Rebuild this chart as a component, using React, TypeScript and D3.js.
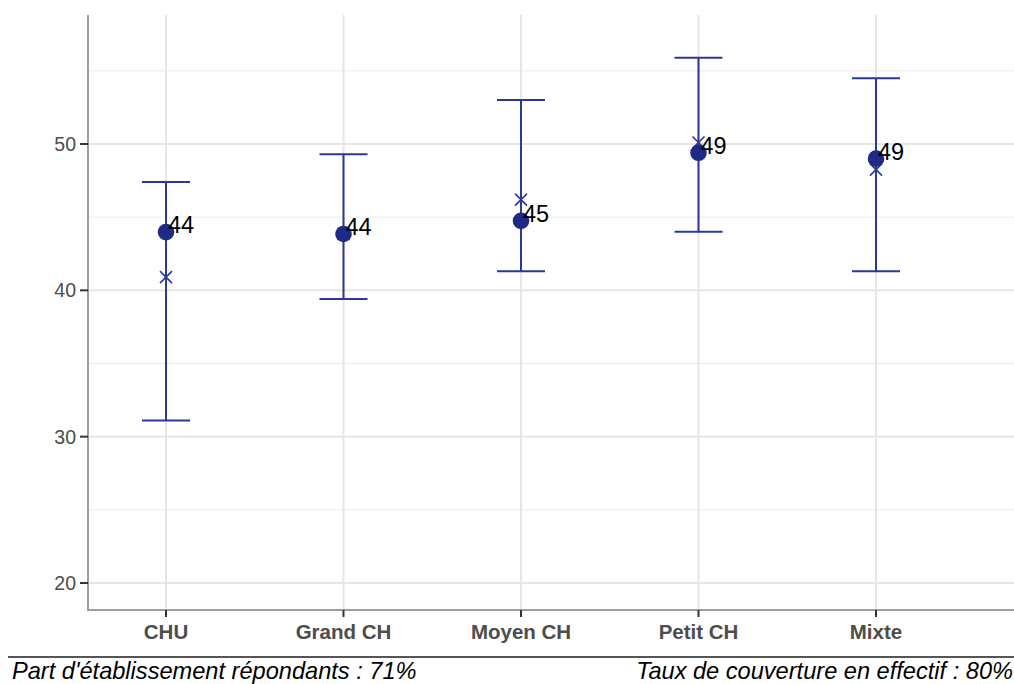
import React from "react";
import * as d3 from "d3";

const categories = ["CHU", "Grand CH", "Moyen CH", "Petit CH", "Mixte"];
const meanValues = [43.98, 43.85, 44.75, 49.4, 49.0];
const medianValues = [40.9, 43.85, 46.2, 50.1, 48.25];
const lowerValues = [31.1, 39.4, 41.3, 44.0, 41.3];
const upperValues = [47.4, 49.3, 53.0, 55.9, 54.5];
const labels = ["44", "44", "45", "49", "49"];
const majorTicks = [20, 30, 40, 50];
const minorTicks = [25, 35, 45, 55];
const footerLeft = "Part d'établissement répondants : 71%";
const footerRight = "Taux de couverture en effectif : 80%";

const W = 1014;
const H = 684;
const plotLeft = 88;
const plotTop = 15;
const plotBottom = 610;
const plotRight = 1014;

export default function App() {
  const y = d3.scaleLinear().domain([20, 50]).range([583, 144]);
  const x = d3
    .scalePoint<string>()
    .domain(categories)
    .range([166, 876]);
  const col = "#2a389a";
  const dot = "#1e2a85";
  const capHalf = 24;
  const xs = 6;
  const font = "Liberation Sans, Arial, Helvetica, sans-serif";

  return (
    <svg
      width={W}
      height={H}
      style={{ position: "absolute", left: 0, top: 0, background: "#fff" }}
      fontFamily={font}
    >
      {/* minor grid */}
      {minorTicks.map((t) => (
        <line key={"mi" + t} x1={plotLeft} x2={plotRight} y1={y(t)} y2={y(t)} stroke="#ebebeb" strokeWidth={1} />
      ))}
      {majorTicks.map((t) => (
        <line key={"ma" + t} x1={plotLeft} x2={plotRight} y1={y(t)} y2={y(t)} stroke="#e6e6e6" strokeWidth={2} />
      ))}
      {categories.map((c) => (
        <line key={"v" + c} x1={x(c)} x2={x(c)} y1={plotTop} y2={plotBottom} stroke="#e6e6e6" strokeWidth={2} />
      ))}
      {/* axes */}
      <line x1={plotLeft} x2={plotLeft} y1={plotTop} y2={plotBottom + 1} stroke="#9e9e9e" strokeWidth={2} />
      <line x1={plotLeft - 1} x2={plotRight} y1={plotBottom} y2={plotBottom} stroke="#9e9e9e" strokeWidth={2} />
      {majorTicks.map((t) => (
        <g key={"yt" + t}>
          <line x1={plotLeft - 8} x2={plotLeft} y1={y(t)} y2={y(t)} stroke="#333" strokeWidth={2} />
          <text x={plotLeft - 12} y={y(t)} dy="0.36em" textAnchor="end" fontSize={19.5} fill="#4d4d4d">
            {t}
          </text>
        </g>
      ))}
      {categories.map((c) => (
        <g key={"xt" + c}>
          <line x1={x(c)} x2={x(c)} y1={plotBottom} y2={plotBottom + 7} stroke="#333" strokeWidth={2} />
          <text x={x(c)} y={639} textAnchor="middle" fontSize={20.5} fontWeight="bold" fill="#4d4d4d">
            {c}
          </text>
        </g>
      ))}
      {/* error bars */}
      {categories.map((c, i) => {
        const cx = x(c)!;
        return (
          <g key={"e" + c} stroke={col} strokeWidth={2} fill="none">
            <line x1={cx} x2={cx} y1={y(upperValues[i])} y2={y(lowerValues[i])} />
            <line x1={cx - capHalf} x2={cx + capHalf} y1={y(upperValues[i])} y2={y(upperValues[i])} />
            <line x1={cx - capHalf} x2={cx + capHalf} y1={y(lowerValues[i])} y2={y(lowerValues[i])} />
          </g>
        );
      })}
      {/* median crosses */}
      {categories.map((c, i) => {
        const cx = x(c)!;
        const cy = y(medianValues[i]);
        return (
          <g key={"m" + c} stroke={col} strokeWidth={1.6}>
            <line x1={cx - xs} x2={cx + xs} y1={cy - xs} y2={cy + xs} />
            <line x1={cx - xs} x2={cx + xs} y1={cy + xs} y2={cy - xs} />
          </g>
        );
      })}
      {/* mean points */}
      {categories.map((c, i) => (
        <circle key={"p" + c} cx={x(c)} cy={y(meanValues[i])} r={8.3} fill={dot} />
      ))}
      {/* labels */}
      {categories.map((c, i) => (
        <text key={"l" + c} x={x(c)! + 2} y={y(meanValues[i]) + 1} fontSize={23.5} fill="#000">
          {labels[i]}
        </text>
      ))}
      {/* footer */}
      <line x1={8} x2={W} y1={657} y2={657} stroke="#555" strokeWidth={2} />
      <text x={12} y={679} fontSize={23.6} fontStyle="italic" fill="#000">
        {footerLeft}
      </text>
      <text x={1013} y={679} fontSize={23.6} fontStyle="italic" textAnchor="end" fill="#000">
        {footerRight}
      </text>
    </svg>
  );
}
